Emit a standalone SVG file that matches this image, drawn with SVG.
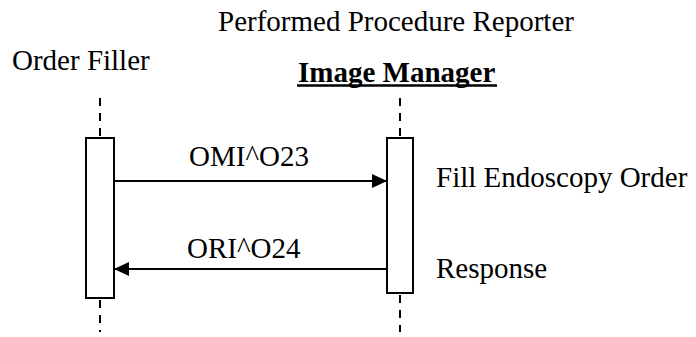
<svg xmlns="http://www.w3.org/2000/svg" width="696" height="337" viewBox="0 0 696 337">
  <style>
    .t { font-family: "Liberation Serif", "Times New Roman", serif; font-size: 29px; fill: #000; }
    .b { font-weight: bold; }
    .life { stroke: #000; stroke-width: 2; stroke-dasharray: 8 7; fill: none; }
    .act { fill: #fff; stroke: #000; stroke-width: 2; }
    .msg { stroke: #000; stroke-width: 2; fill: none; }
  </style>
  <defs>
    <marker id="arrow" viewBox="0 0 15 14" refX="15" refY="7" markerWidth="15" markerHeight="14" markerUnits="userSpaceOnUse" orient="auto">
      <path d="M0,0 L15,7 L0,14 Z" fill="#000"/>
    </marker>
  </defs>

  <text class="t" x="218" y="31">Performed Procedure Reporter</text>

  <g id="order-filler">
    <text class="t" x="12" y="70">Order Filler</text>
    <line class="life" x1="100" y1="98" x2="100" y2="138"/>
    <line class="life" x1="100" y1="300" x2="100" y2="332"/>
    <rect class="act" x="86" y="138" width="28" height="160"/>
  </g>

  <g id="image-manager">
    <text class="t b" x="298" y="82">Image Manager</text>
    <line x1="297" y1="85.5" x2="497" y2="85.5" stroke="#000" stroke-width="2.5"/>
    <line class="life" x1="400" y1="98" x2="400" y2="138"/>
    <line class="life" x1="400" y1="295" x2="400" y2="332"/>
    <rect class="act" x="387" y="138" width="26" height="155"/>
    <text class="t" x="436" y="187">Fill Endoscopy Order</text>
    <text class="t" x="436" y="278">Response</text>
  </g>

  <g id="connectors">
    <line class="msg" x1="114" y1="181" x2="387" y2="181" marker-end="url(#arrow)"/>
    <text class="t" x="189" y="166">OMI^O23</text>
    <line class="msg" x1="387" y1="269" x2="114" y2="269" marker-end="url(#arrow)"/>
    <text class="t" x="187" y="258">ORI^O24</text>
  </g>
</svg>
